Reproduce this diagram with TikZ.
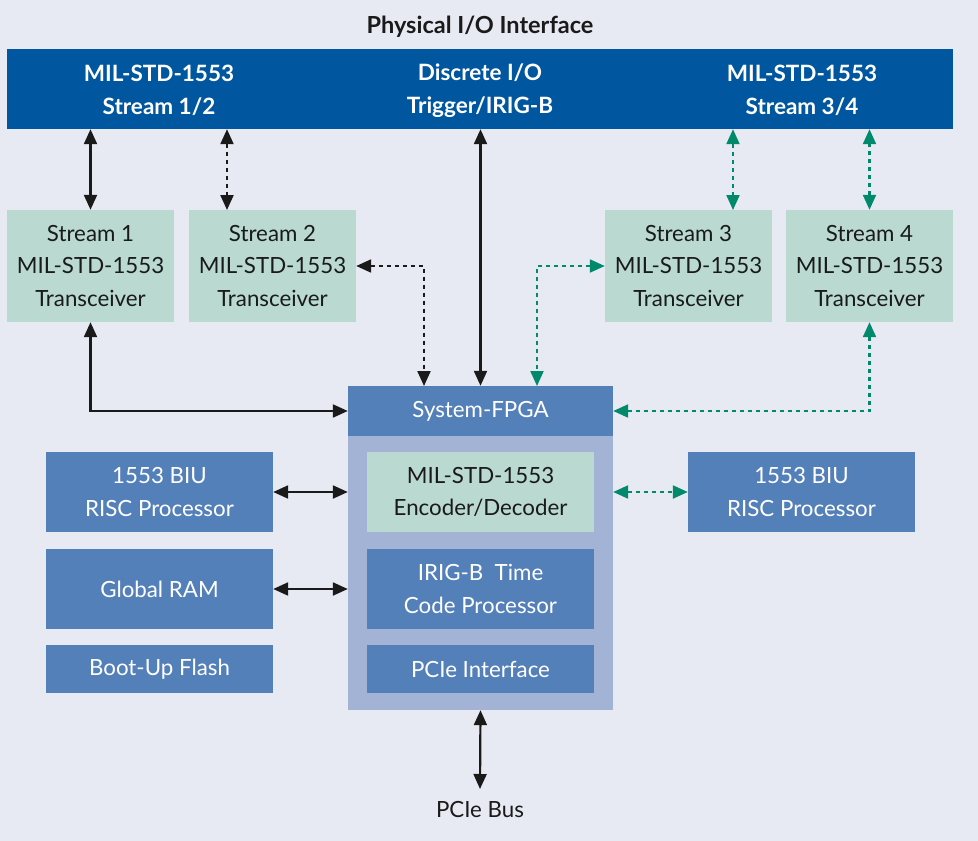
\documentclass[tikz,border=0pt]{standalone}
\usepackage{fontspec}
\setmainfont{Lato}
\usetikzlibrary{arrows.meta,calc}
\definecolor{bg}{HTML}{E8EAF3}
\definecolor{barblue}{HTML}{00569F}
\definecolor{midblue}{HTML}{5480BA}
\definecolor{lightblue}{HTML}{A3B3D6}
\definecolor{mint}{HTML}{B9D9D1}
\definecolor{ink}{HTML}{1A1A1A}
\definecolor{teal}{HTML}{00896B}
\tikzset{
  box/.style={rectangle, inner sep=0pt, align=center, font=\fontsize{22.3}{32.5}\selectfont},
  gbox/.style={box, fill=mint, text=ink, minimum width=167pt, minimum height=112pt},
  bbox/.style={box, fill=midblue, text=white, minimum width=227pt},
  wtext/.style={align=center, text=white, font=\fontsize{22.5}{32.5}\selectfont\bfseries},
  conn/.style={line width=2.2pt, draw=ink, {Triangle[length=15pt,width=13pt]}-{Triangle[length=15pt,width=13pt]}},
  dconn/.style={conn, dash pattern=on 4pt off 4pt},
  tconn/.style={conn, draw=teal, dash pattern=on 4pt off 4pt},
}
\begin{document}
\begin{tikzpicture}[x=1pt,y=-1pt]
\fill[bg] (0,0) rectangle (978,841);
\useasboundingbox (0,0) rectangle (978,841);

\node[font=\fontsize{23.5}{26}\selectfont\bfseries, text=ink] (title) at (480,26.5) {Physical I/O Interface};

\node[rectangle, fill=barblue, minimum width=946pt, minimum height=80pt, inner sep=0pt] (bar) at (480,89) {};
\node[wtext] (t12) at (159,90.5) {MIL-STD-1553\\Stream 1/2};
\node[wtext] (tdio) at (480,90.5) {Discrete I/O\\Trigger/IRIG-B};
\node[wtext] (t34) at (802,90.5) {MIL-STD-1553\\Stream 3/4};

\node[gbox] (s1) at (90.5,266) {Stream 1\\MIL-STD-1553\\Transceiver};
\node[gbox] (s2) at (272.5,266) {Stream 2\\MIL-STD-1553\\Transceiver};
\node[gbox] (s3) at (688.5,266) {Stream 3\\MIL-STD-1553\\Transceiver};
\node[gbox] (s4) at (869.5,266) {Stream 4\\MIL-STD-1553\\Transceiver};

\node[rectangle, fill=lightblue, minimum width=265pt, minimum height=324pt, inner sep=0pt] (fpga) at (480.5,548) {};
\node[box, fill=midblue, text=white, minimum width=265pt, minimum height=50pt] (hdr) at (480.5,411) {System-FPGA};
\node[box, fill=mint, text=ink, minimum width=227pt, minimum height=80pt] (enc) at (480.5,492) {MIL-STD-1553\\Encoder/Decoder};
\node[bbox, minimum height=80pt] (irig) at (480.5,589) {IRIG-B\ \ Time\\Code Processor};
\node[bbox, minimum height=48pt] (pcie) at (480.5,669) {PCIe Interface};

\node[bbox, minimum height=80pt] (biul) at (159.5,492) {1553 BIU\\RISC Processor};
\node[bbox, minimum height=80pt] (ram) at (159.5,589) {Global RAM};
\node[bbox, minimum height=48pt] (flash) at (159.5,669) {Boot-Up Flash};
\node[bbox, minimum height=80pt] (biur) at (801.5,492) {1553 BIU\\RISC Processor};

\node[box, text=ink, anchor=north, inner sep=0pt] (bus) at (480,801) {PCIe Bus};

\coordinate (a2) at (227,210);
\coordinate (a3) at (733,210);
\coordinate (c2) at (424,386);
\coordinate (c3) at (537,386);
\coordinate (busend) at (480,789);

\draw[conn] (s1.north) -- (s1.north |- bar.south);
\draw[dconn] (a2) -- (a2 |- bar.south);
\draw[conn] (hdr.north) -- (hdr.north |- bar.south);
\draw[tconn] (a3) -- (a3 |- bar.south);
\draw[tconn] (s4.north) -- (s4.north |- bar.south);

\draw[conn] (s1.south) |- (hdr.west);
\draw[dconn] (s2.east) -| (c2);
\draw[tconn] (s3.west) -| (c3);
\draw[tconn] (s4.south) |- (hdr.east);

\draw[conn] (biul.east) -- (biul.east -| fpga.west);
\draw[conn] (ram.east) -- (ram.east -| fpga.west);
\draw[tconn] (biur.west -| fpga.east) -- (biur.west);
\draw[conn] (fpga.south) -- (busend);
\end{tikzpicture}
\end{document}
